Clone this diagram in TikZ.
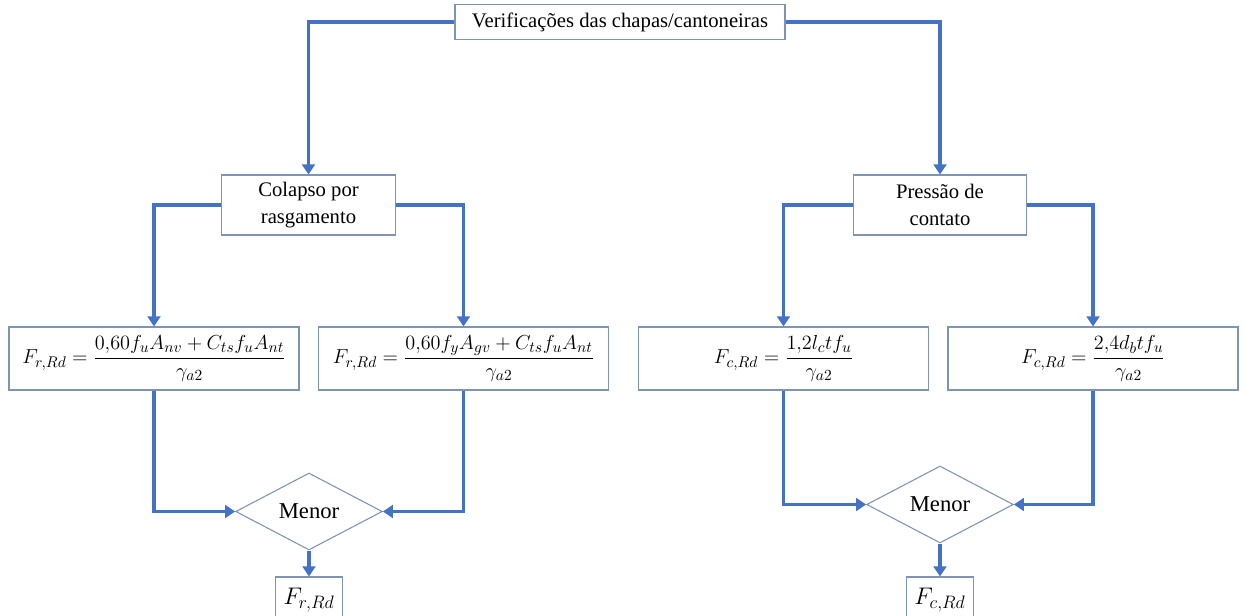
\RequirePackage{fix-cm}
\documentclass[tikz,border=0pt]{standalone}
\usepackage{amsmath}
\usepackage{fontspec}
\setmainfont{Liberation Serif}
\usetikzlibrary{shapes.geometric,arrows.meta}
% larger sub/superscripts for the formulas
\DeclareMathSizes{15.2}{15.2}{11.6}{9}
\DeclareMathSizes{18}{18}{13.5}{10}
\definecolor{flowblue}{RGB}{68,114,196}
\definecolor{boxline}{RGB}{125,148,178}
\tikzset{
  box/.style={draw=boxline, line width=0.8pt, fill=white, rectangle, inner sep=2pt,
    align=center, font=\fontsize{15.5}{20}\selectfont},
  fbox/.style={box, minimum width=217.5pt, minimum height=47.25pt, font=\fontsize{15.2}{19}\selectfont},
  rbox/.style={box, minimum width=50.25pt, minimum height=34.5pt, font=\fontsize{18}{20}\selectfont},
  dia/.style={draw=boxline, line width=0.8pt, fill=white, diamond, aspect=1.9, inner sep=0pt,
    minimum width=110pt, minimum height=57.75pt, font=\fontsize{17}{20}\selectfont},
  conn/.style={draw=flowblue, line width=2.3pt, -{Triangle[width=9.5pt,length=7.5pt]}}
}
\begin{document}
\begin{tikzpicture}[x=0.75pt,y=-0.75pt]
\useasboundingbox (0,0) rectangle (1245,616);
\clip (0,0) rectangle (1245,616);
\fill[white] (0,0) rectangle (1245,616);

% top level
\node[box, minimum width=247.5pt, minimum height=26.25pt] (top) at (620,22) {Verificações das chapas/cantoneiras};

% two families of checks
\node[box, minimum width=130pt, minimum height=45pt] (col) at (308.5,205) {Colapso por\\rasgamento};
\node[box, minimum width=130pt, minimum height=45pt] (pre) at (940,205) {Pressão de\\contato};

% resistance formulas
\node[fbox] (f1) at (154,358.5) {$F_{r,Rd}=\dfrac{0{,}60f_uA_{nv}+C_{ts}f_uA_{nt}}{\gamma_{a2}}$};
\node[fbox] (f2) at (463.5,358.5) {$F_{r,Rd}=\dfrac{0{,}60f_yA_{gv}+C_{ts}f_uA_{nt}}{\gamma_{a2}}$};
\node[fbox] (f3) at (783.5,358.5) {$F_{c,Rd}=\dfrac{1{,}2l_ctf_u}{\gamma_{a2}}$};
\node[fbox] (f4) at (1093,358.5) {$F_{c,Rd}=\dfrac{2{,}4d_btf_u}{\gamma_{a2}}$};

% minimum selection
\node[dia] (m1) at (309,511.5) {Menor};
\node[dia] (m2) at (940,504.5) {Menor};

% results
\node[rbox] (r1) at (309,600) {$F_{r,Rd}$};
\node[rbox] (r2) at (940,600) {$F_{c,Rd}$};

% connectors
\draw[conn] (top.west) -| (col.north);
\draw[conn] (top.east) -| (pre.north);
\draw[conn] (col.west) -| (f1.north);
\draw[conn] (col.east) -| (f2.north);
\draw[conn] (pre.west) -| (f3.north);
\draw[conn] (pre.east) -| (f4.north);
\draw[conn] (f1.south) |- (m1.west);
\draw[conn] (f2.south) |- (m1.east);
\draw[conn] (f3.south) |- (m2.west);
\draw[conn] (f4.south) |- (m2.east);
\draw[conn] (m1.south) -- (r1.north);
\draw[conn] (m2.south) -- (r2.north);
\end{tikzpicture}
\end{document}
